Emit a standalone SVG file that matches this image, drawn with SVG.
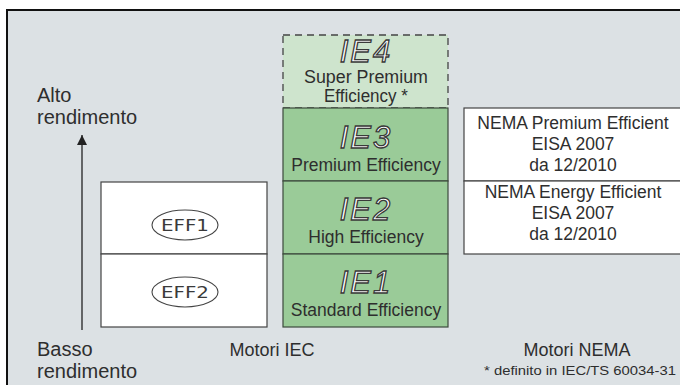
<svg xmlns="http://www.w3.org/2000/svg" width="680" height="385" viewBox="0 0 680 385">
<style>
.t{font-family:"Liberation Sans",Arial,sans-serif;fill:#2e2e2e;}
.ie{font-family:"Liberation Sans",Arial,sans-serif;font-style:italic;font-size:31px;fill:#fff;stroke:#3a3a3a;stroke-width:1.3;letter-spacing:2px;text-anchor:middle;}
.sub{font-size:17.5px;text-anchor:middle;}
.nm{font-size:17.5px;text-anchor:middle;}
.box{stroke:#3d4a3d;stroke-width:1.2;}
.g{fill:#9acb98;}
.w{fill:#fff;stroke:#444;stroke-width:1.2;}
.eff{font-family:"DejaVu Sans",sans-serif;font-size:15px;fill:#3a3a3a;text-anchor:middle;}
</style>
<defs>
<marker id="ah" viewBox="0 0 10 10" refX="10" refY="5" markerWidth="10" markerHeight="22" markerUnits="userSpaceOnUse" orient="auto"><path d="M0,0 L10,5 L0,10 z" fill="#222"/></marker>
</defs>
<rect x="0" y="0" width="680" height="385" fill="#fff"/>
<rect x="8" y="11" width="672" height="374" fill="#dce1e4"/>
<path d="M7,385 V10 H680" fill="none" stroke="#111" stroke-width="2"/>

<g id="connectors">
<line x1="82" y1="330" x2="82" y2="135" stroke="#222" stroke-width="1.3" marker-end="url(#ah)"/>
</g>

<g id="axis-labels">
<text class="t" x="37" y="102" font-size="20">Alto</text>
<text class="t" x="37" y="124" font-size="20">rendimento</text>
<text class="t" x="37" y="356" font-size="20">Basso</text>
<text class="t" x="37" y="378" font-size="20">rendimento</text>
<text class="t" x="272" y="356" font-size="18" text-anchor="middle">Motori IEC</text>
<text class="t" x="577" y="356" font-size="18" text-anchor="middle">Motori NEMA</text>
<text class="t" x="676" y="375" font-size="12.5" text-anchor="end" textLength="192" lengthAdjust="spacingAndGlyphs">* definito in IEC/TS 60034-31</text>
</g>

<g id="ie4">
<rect x="283" y="35" width="165" height="73" fill="#cee4cd" stroke="#444" stroke-width="1.3" stroke-dasharray="7,5"/>
<text class="ie" x="366" y="61.5" font-size="25">IE4</text>
<text class="t sub" x="366" y="83" font-size="14" textLength="124" lengthAdjust="spacingAndGlyphs">Super Premium</text>
<text class="t sub" x="366" y="102" font-size="14" textLength="84" lengthAdjust="spacingAndGlyphs">Efficiency *</text>
</g>
<g id="ie3">
<rect class="g box" x="283" y="108" width="165" height="73"/>
<text class="ie" x="366" y="148">IE3</text>
<text class="t sub" x="366" y="171">Premium Efficiency</text>
</g>
<g id="ie2">
<rect class="g box" x="283" y="181" width="165" height="73"/>
<text class="ie" x="366" y="220">IE2</text>
<text class="t sub" x="366" y="243">High Efficiency</text>
</g>
<g id="ie1">
<rect class="g box" x="283" y="254" width="165" height="73"/>
<text class="ie" x="366" y="293">IE1</text>
<text class="t sub" x="366" y="316">Standard Efficiency</text>
</g>

<g id="eff1">
<rect class="w" x="101" y="182" width="166" height="72"/>
<ellipse cx="185" cy="225" rx="33" ry="15" fill="#fff" stroke="#444" stroke-width="1.1"/>
<text class="eff" x="185" y="230.5" textLength="48" lengthAdjust="spacingAndGlyphs">EFF1</text>
</g>
<g id="eff2">
<rect class="w" x="101" y="254" width="166" height="73"/>
<ellipse cx="185" cy="292" rx="33" ry="15" fill="#fff" stroke="#444" stroke-width="1.1"/>
<text class="eff" x="185" y="297.5" textLength="48" lengthAdjust="spacingAndGlyphs">EFF2</text>
</g>

<g id="nema-premium">
<rect class="w" x="464" y="108" width="220" height="73"/>
<text class="t nm" x="573" y="129">NEMA Premium Efficient</text>
<text class="t nm" x="573" y="150">EISA 2007</text>
<text class="t nm" x="573" y="171">da 12/2010</text>
</g>
<g id="nema-energy">
<rect class="w" x="464" y="181" width="220" height="73"/>
<text class="t nm" x="573" y="198">NEMA Energy Efficient</text>
<text class="t nm" x="573" y="219">EISA 2007</text>
<text class="t nm" x="573" y="240">da 12/2010</text>
</g>
</svg>
